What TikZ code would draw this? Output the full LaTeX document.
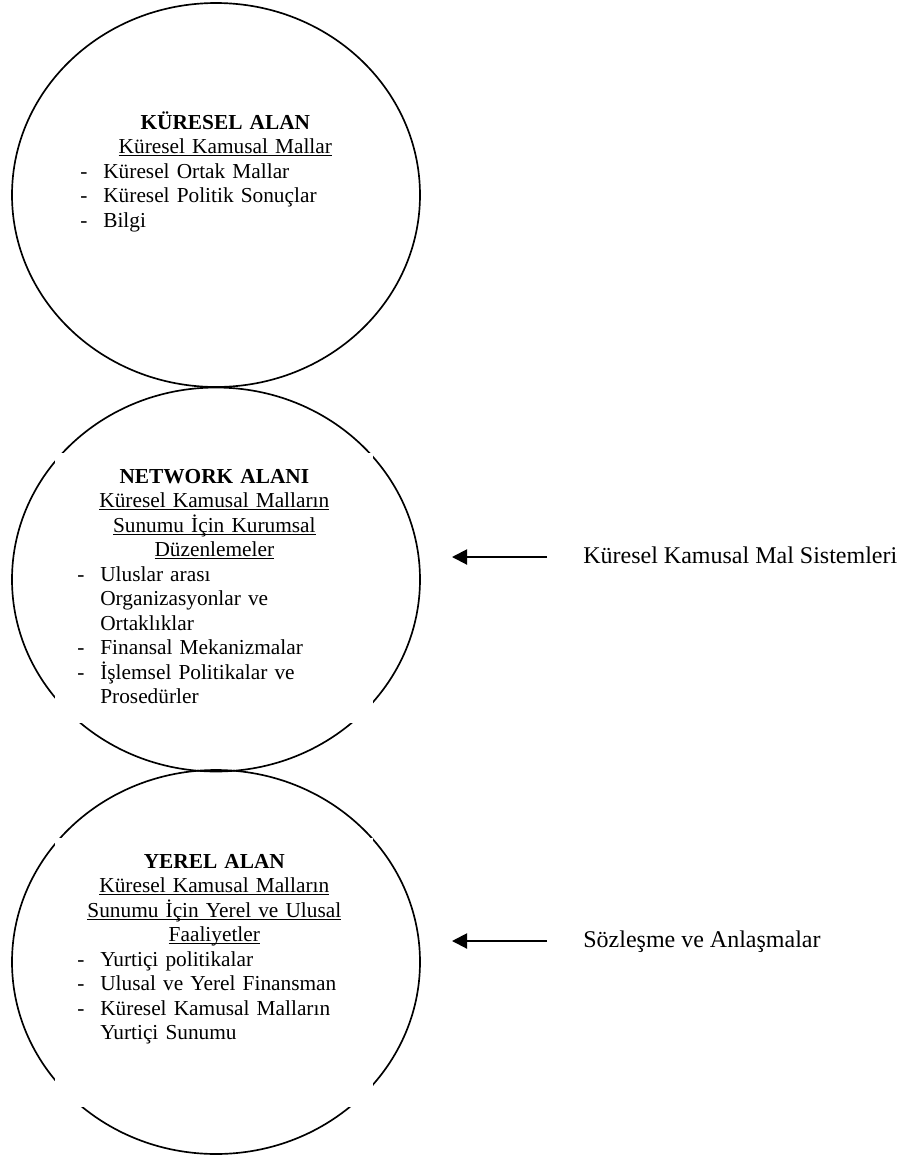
\documentclass[tikz,border=0pt]{standalone}
\usepackage{fontspec}
\setmainfont{Liberation Serif}
\usetikzlibrary{arrows.meta, positioning, shapes.geometric}
\newsavebox{\altibox}
\newcommand{\alti}[1]{\leavevmode\sbox{\altibox}{#1}\rlap{\rule[-1.7pt]{\wd\altibox}{0.6pt}}\usebox{\altibox}}
\newcommand{\alanmadde}[1]{\par\raggedright\leftskip=13.2pt\hangindent=13.8pt\hangafter=1\noindent\makebox[13.8pt][l]{-}#1\par}

\begin{document}
\begin{tikzpicture}[
        x=0.6pt, y=-0.6pt,
        alan/.style={ellipse, draw, line width=1pt, inner sep=0pt, minimum width=244.8pt, minimum height=230.4pt},
        alantext/.style={inner sep=0pt, anchor=base west, text width=190.8pt, font=\fontsize{12.8}{14.7}\selectfont},
        ortu/.style={fill=white, text height=18pt, text depth=144pt},
        etiket/.style={inner sep=0pt, anchor=base west, font=\fontsize{14.4}{17}\selectfont},
        arrow/.style={-{Triangle[length=9pt, width=9pt]}, line width=1.2pt}
    ]
    \useasboundingbox (0,0) rectangle (907,1155);
    \node[alan] (kuresel) at (216,195) {};
    \node[alan] (network) at (216,579.5) {};
    \node[alan] (yerel) at (216,962) {};

    \node[alantext, text width=200.4pt] (kureseltext) at (58,129) {%
        {\centering\bfseries KÜRESEL ALAN\par}
        {\centering\alti{Küresel Kamusal Mallar}\par}
        \alanmadde{Küresel Ortak Mallar}
        \alanmadde{Küresel Politik Sonuçlar}
        \alanmadde{Bilgi}};
    \node[alantext, ortu] (networktext) at (55,483) {%
        {\centering\bfseries NETWORK ALANI\par}
        {\centering\alti{Küresel Kamusal Malların}\\\alti{Sunumu İçin Kurumsal}\\\alti{Düzenlemeler}\par}
        \alanmadde{Uluslar arası\newline Organizasyonlar ve\newline Ortaklıklar}
        \alanmadde{Finansal Mekanizmalar}
        \alanmadde{İşlemsel Politikalar ve\newline Prosedürler}};
    \node[alantext, ortu, text depth=143.4pt] (yereltext) at (55,868) {%
        {\centering\bfseries YEREL ALAN\par}
        {\centering\alti{Küresel Kamusal Malların}\\\alti{Sunumu İçin Yerel ve Ulusal}\\\alti{Faaliyetler}\par}
        \alanmadde{Yurtiçi politikalar}
        \alanmadde{Ulusal ve Yerel Finansman}
        \alanmadde{Küresel Kamusal Malların\newline Yurtiçi Sunumu}};

    \coordinate (sistemkuyruk) at (547,557);
    \coordinate (sistemuc) at (452,557);
    \node[etiket] (sistem) at (583,563) {Küresel Kamusal Mal Sistemleri};
    \coordinate (sozlesmekuyruk) at (547,941);
    \coordinate (sozlesmeuc) at (452,941);
    \node[etiket] (sozlesme) at (583,947) {Sözleşme ve Anlaşmalar};

    \draw[arrow] (sistemkuyruk) -- (sistemuc);
    \draw[arrow] (sozlesmekuyruk) -- (sozlesmeuc);
\end{tikzpicture}
\end{document}
